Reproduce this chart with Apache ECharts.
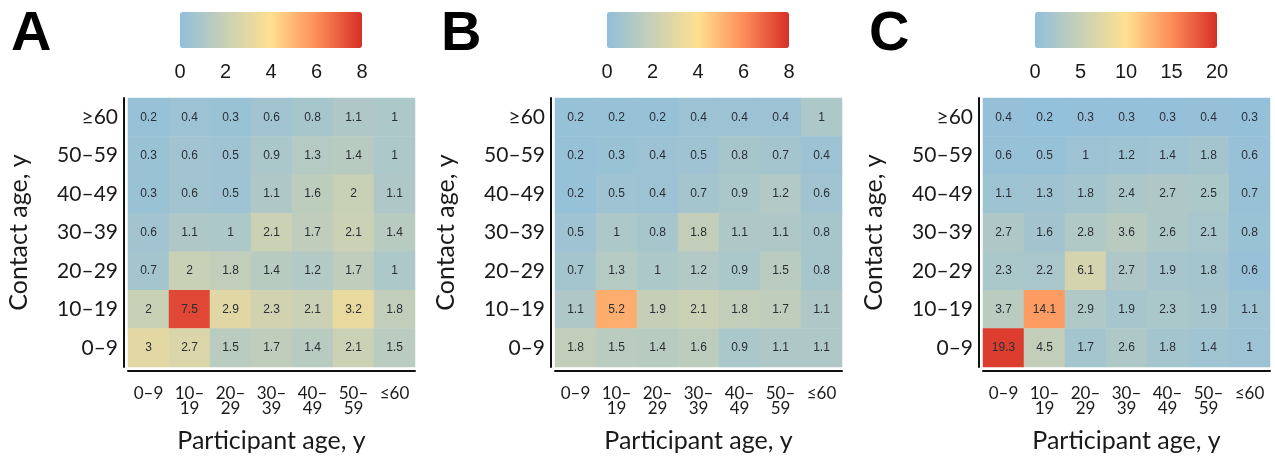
<!DOCTYPE html>
<html>
<head>
<meta charset="utf-8">
<script src="https://cdn.jsdelivr.net/npm/echarts@6/dist/echarts.min.js"></script>
<style>
  html, body { margin: 0; padding: 0; background: #fff; }
  #chart { width: 1275px; height: 458px; }
</style>
</head>
<body>
<div id="chart"></div>
<script>
// 年龄分组（y 轴由下到上）
const contactAges = ['0–9', '10–19', '20–29', '30–39', '40–49', '50–59', '≥60'];
// x 轴标签（两行）
const participantAges = ['0–9', '10–\n19', '20–\n29', '30–\n39', '40–\n49', '50–\n59', '≤60'];
const panelNames = ['A', 'B', 'C'];

// 每行从上（≥60）到下（0–9），与图中一致
const valuesA = [
  [0.2, 0.4, 0.3, 0.6, 0.8, 1.1, 1],
  [0.3, 0.6, 0.5, 0.9, 1.3, 1.4, 1],
  [0.3, 0.6, 0.5, 1.1, 1.6, 2, 1.1],
  [0.6, 1.1, 1, 2.1, 1.7, 2.1, 1.4],
  [0.7, 2, 1.8, 1.4, 1.2, 1.7, 1],
  [2, 7.5, 2.9, 2.3, 2.1, 3.2, 1.8],
  [3, 2.7, 1.5, 1.7, 1.4, 2.1, 1.5]
];
const valuesB = [
  [0.2, 0.2, 0.2, 0.4, 0.4, 0.4, 1],
  [0.2, 0.3, 0.4, 0.5, 0.8, 0.7, 0.4],
  [0.2, 0.5, 0.4, 0.7, 0.9, 1.2, 0.6],
  [0.5, 1, 0.8, 1.8, 1.1, 1.1, 0.8],
  [0.7, 1.3, 1, 1.2, 0.9, 1.5, 0.8],
  [1.1, 5.2, 1.9, 2.1, 1.8, 1.7, 1.1],
  [1.8, 1.5, 1.4, 1.6, 0.9, 1.1, 1.1]
];
const valuesC = [
  [0.4, 0.2, 0.3, 0.3, 0.3, 0.4, 0.3],
  [0.6, 0.5, 1, 1.2, 1.4, 1.8, 0.6],
  [1.1, 1.3, 1.8, 2.4, 2.7, 2.5, 0.7],
  [2.7, 1.6, 2.8, 3.6, 2.6, 2.1, 0.8],
  [2.3, 2.2, 6.1, 2.7, 1.9, 1.8, 0.6],
  [3.7, 14.1, 2.9, 1.9, 2.3, 1.9, 1.1],
  [19.3, 4.5, 1.7, 2.6, 1.8, 1.4, 1]
];
// 色标范围
const scaleMax = [8, 8, 20];
const scaleStep = [2, 2, 5];

const panelValues = [valuesA, valuesB, valuesC];
const panelLeft = [128, 555, 983];
const colors = ['#91bfdb', '#c8d0b6', '#fee090', '#fc8d59', '#d73027'];
const labelFont = 'Lato';

const toCells = (rows) => {
  const out = [];
  rows.forEach((row, r) => {
    row.forEach((v, c) => out.push([c, rows.length - 1 - r, v]));
  });
  return out;
};

const grid = [], xAxis = [], yAxis = [], series = [], visualMap = [], title = [];

panelValues.forEach((rows, i) => {
  const left = panelLeft[i];
  grid.push({ left: left, top: 98, width: 287, height: 277 });
  xAxis.push({
    gridIndex: i,
    type: 'category',
    data: participantAges,
    offset: 4,
    name: 'Participant age, y',
    nameLocation: 'middle',
    nameGap: 57,
    nameTextStyle: { fontFamily: labelFont, fontSize: 25, color: '#1a1a1a' },
    axisLine: { lineStyle: { color: '#111', width: 2 } },
    axisTick: { alignWithLabel: true, length: 6, lineStyle: { color: '#111', width: 2 } },
    axisLabel: { fontFamily: labelFont, fontSize: 17, lineHeight: 15, color: '#1a1a1a', margin: 15 },
    splitArea: { show: false }
  });
  yAxis.push({
    gridIndex: i,
    type: 'category',
    data: contactAges,
    offset: 4,
    name: 'Contact age, y',
    nameLocation: 'middle',
    nameGap: 93,
    nameTextStyle: { fontFamily: labelFont, fontSize: 25, color: '#1a1a1a' },
    axisLine: { lineStyle: { color: '#111', width: 2 } },
    axisTick: { alignWithLabel: true, length: 5, lineStyle: { color: '#111', width: 2 } },
    axisLabel: { fontFamily: labelFont, fontSize: 21, color: '#1a1a1a', margin: 6 },
    splitArea: { show: false }
  });
  series.push({
    type: 'heatmap',
    xAxisIndex: i,
    yAxisIndex: i,
    data: toCells(rows),
    label: {
      show: true,
      fontFamily: 'Liberation Sans',
      fontSize: 12,
      color: '#2b2f36',
      formatter: (p) => p.value[2]
    },
    itemStyle: { borderWidth: 0 }
  });
  visualMap.push({
    type: 'continuous',
    seriesIndex: i,
    min: 0,
    max: scaleMax[i],
    orient: 'horizontal',
    left: left + 52,
    top: 12,
    padding: 0,
    itemWidth: 36,
    itemHeight: 182,
    calculable: false,
    text: null,
    inRange: { color: colors }
  });
  title.push({
    text: panelNames[i],
    left: [6, 436, 864][i],
    top: 2,
    textStyle: { fontFamily: 'Liberation Sans', fontWeight: 'bold', fontSize: 56, color: '#000' }
  });
});

// 色标刻度（用数值轴画）
panelValues.forEach((rows, i) => {
  const g = 3 + i;
  grid.push({ left: panelLeft[i] + 52, top: 12, width: 182, height: 36 });
  xAxis.push({
    gridIndex: g,
    type: 'value',
    min: 0,
    max: scaleMax[i],
    interval: scaleStep[i],
    axisLine: { show: false },
    axisTick: { show: false },
    splitLine: { show: false },
    axisLabel: { fontFamily: 'Liberation Sans', fontSize: 20, color: '#1a1a1a', margin: 14 }
  });
  yAxis.push({ gridIndex: g, type: 'value', show: false });
});

const myChart = echarts.init(document.getElementById('chart'));
myChart.setOption({
  animation: false,
  title: title,
  grid: grid,
  xAxis: xAxis,
  yAxis: yAxis,
  visualMap: visualMap,
  series: series
});
</script>
</body>
</html>
